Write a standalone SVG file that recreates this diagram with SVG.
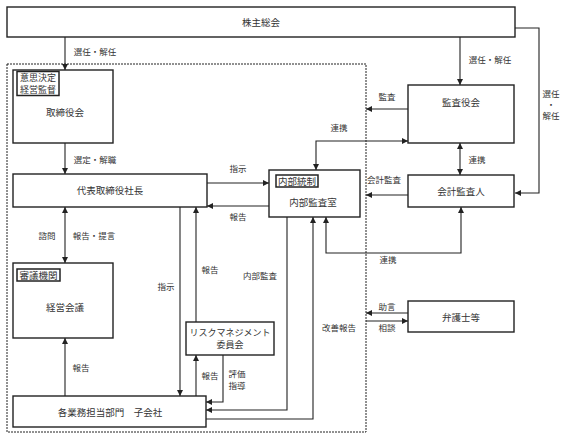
<svg xmlns="http://www.w3.org/2000/svg" width="569" height="439" viewBox="0 0 569 439">
<style>
.box{fill:#fff;stroke:#222;stroke-width:1.4}
.tag{fill:#fff;stroke:#222;stroke-width:1.5}
.ln{fill:none;stroke:#222;stroke-width:1.1}
.t{font-family:"Noto Sans CJK JP","Noto Sans CJK SC",sans-serif;font-size:9.5px;fill:#333;text-anchor:middle;dominant-baseline:central}
.m{font-size:9px}
.s{font-family:"Noto Sans CJK JP","Noto Sans CJK SC",sans-serif;font-size:8.5px;fill:#333;text-anchor:middle;dominant-baseline:central}
</style>
<defs>
<marker id="a" viewBox="0 0 10 10" refX="10" refY="5" markerWidth="6" markerHeight="6" markerUnits="userSpaceOnUse" orient="auto-start-reverse">
<path d="M0,0 L10,5 L0,10 z" fill="#222"/>
</marker>
</defs>
<rect x="7" y="64" width="359" height="368" fill="none" stroke="#222" stroke-width="1" stroke-dasharray="2,1"/>
<g id="connectors">
<path class="ln" d="M65,37 V70" marker-end="url(#a)"/>
<path class="ln" d="M460,37 V85" marker-end="url(#a)"/>
<path class="ln" d="M515,28 H539 V193 H515" marker-end="url(#a)"/>
<path class="ln" d="M65,143 V174" marker-end="url(#a)"/>
<path class="ln" d="M65,207 V263" marker-start="url(#a)" marker-end="url(#a)"/>
<path class="ln" d="M65,396 V338" marker-end="url(#a)"/>
<path class="ln" d="M207,183 H269" marker-end="url(#a)"/>
<path class="ln" d="M269,206 H207" marker-end="url(#a)"/>
<path class="ln" d="M180,207 V396" marker-end="url(#a)"/>
<path class="ln" d="M196,322 V207" marker-end="url(#a)"/>
<path class="ln" d="M196,396 V355" marker-end="url(#a)"/>
<path class="ln" d="M223,355 V402 H206" marker-end="url(#a)"/>
<path class="ln" d="M287,217 V410 H206" marker-end="url(#a)"/>
<path class="ln" d="M206,419 H313 V217" marker-end="url(#a)"/>
<path class="ln" d="M461,207 V253 H326 V217" marker-start="url(#a)" marker-end="url(#a)"/>
<path class="ln" d="M408,141 H316 V170" marker-start="url(#a)" marker-end="url(#a)"/>
<path class="ln" d="M460,143 V175" marker-start="url(#a)" marker-end="url(#a)"/>
<path class="ln" d="M408,109 H366" marker-end="url(#a)"/>
<path class="ln" d="M408,195 H366" marker-end="url(#a)"/>
<path class="ln" d="M408,313 H366" marker-end="url(#a)"/>
<path class="ln" d="M366,321 H408" marker-end="url(#a)"/>
<text class="s" x="95" y="51">選任・解任</text>
<text class="s" x="490" y="59">選任・解任</text>
<text class="s" x="551" y="93">選任</text>
<text class="s" x="551" y="104">・</text>
<text class="s" x="551" y="115">解任</text>
<text class="s" x="95" y="159">選定・解職</text>
<text class="s" x="47" y="235">諮問</text>
<text class="s" x="94" y="235">報告・提言</text>
<text class="s" x="81" y="367">報告</text>
<text class="s" x="238" y="168">指示</text>
<text class="s" x="238" y="216">報告</text>
<text class="s" x="166" y="286">指示</text>
<text class="s" x="210" y="269">報告</text>
<text class="s" x="260" y="275">内部監査</text>
<text class="s" x="210" y="375">報告</text>
<text class="s" x="237" y="373">評価</text>
<text class="s" x="237" y="385">指導</text>
<text class="s" x="339" y="327">改善報告</text>
<text class="s" x="339" y="127">連携</text>
<text class="s" x="387" y="96">監査</text>
<text class="s" x="477" y="159">連携</text>
<text class="s" x="384" y="179">会計監査</text>
<text class="s" x="388" y="259">連携</text>
<text class="s" x="387" y="306">助言</text>
<text class="s" x="387" y="327">相談</text>
</g>
<g id="kabunushi">
<rect class="box" x="7" y="7" width="508" height="30"/>
<text class="t" x="261" y="22">株主総会</text>
</g>
<g id="torishimariyakukai">
<rect class="box" x="13" y="70" width="100" height="73"/>
<rect class="tag" x="17" y="71.5" width="42" height="24"/>
<text class="t m" x="38" y="77.5">意思決定</text>
<text class="t m" x="38" y="89.5">経営監督</text>
<text class="t" x="65" y="112">取締役会</text>
</g>
<g id="daihyo">
<rect class="box" x="13" y="174" width="194" height="33"/>
<text class="t" x="110" y="190">代表取締役社長</text>
</g>
<g id="keieikaigi">
<rect class="box" x="13" y="263" width="100" height="75"/>
<rect class="tag" x="17" y="269" width="43" height="12"/>
<text class="t" x="38.5" y="275">審議機関</text>
<text class="t" x="65" y="307">経営会議</text>
</g>
<g id="kakugyomu">
<rect class="box" x="13" y="396" width="193" height="31"/>
<text class="t" x="110" y="412">各業務担当部門　子会社</text>
</g>
<g id="risk">
<rect class="box" x="186" y="322" width="88" height="33"/>
<text class="t m" x="230" y="332.5">リスクマネジメント</text>
<text class="t m" x="230" y="344.5">委員会</text>
</g>
<g id="naibukansa">
<rect class="box" x="269" y="170" width="91" height="47"/>
<rect class="tag" x="276" y="175" width="42" height="12"/>
<text class="t" x="297" y="181">内部統制</text>
<text class="t" x="313" y="202">内部監査室</text>
</g>
<g id="kansayakukai">
<rect class="box" x="408" y="85" width="106" height="58"/>
<text class="t" x="461" y="102">監査役会</text>
</g>
<g id="kaikeikansanin">
<rect class="box" x="408" y="175" width="106" height="32"/>
<text class="t" x="461" y="191">会計監査人</text>
</g>
<g id="bengoshi">
<rect class="box" x="408" y="301" width="106" height="31"/>
<text class="t" x="461" y="317">弁護士等</text>
</g>
</svg>
